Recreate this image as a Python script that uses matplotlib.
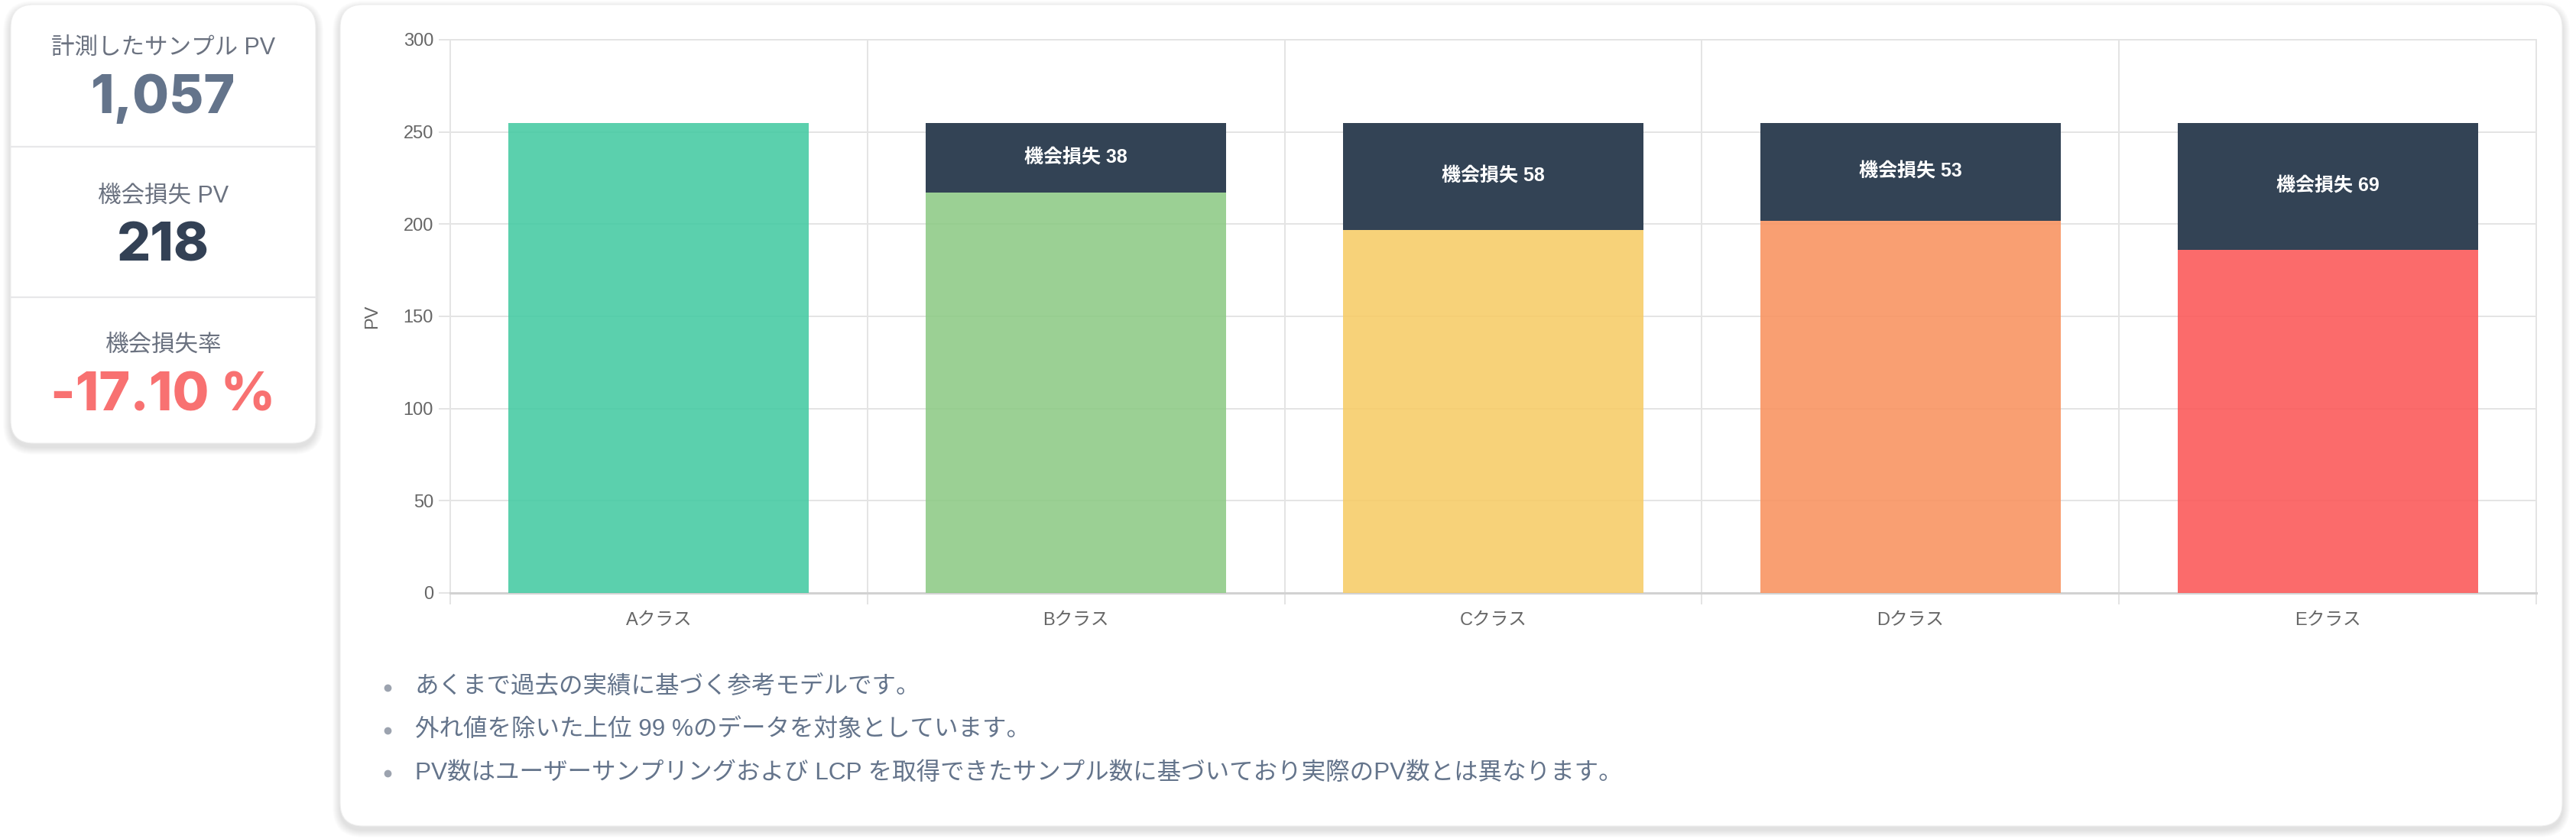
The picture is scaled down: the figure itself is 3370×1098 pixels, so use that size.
import matplotlib.pyplot as plt
import numpy as np
from matplotlib.patches import FancyBboxPatch

# chart data
classes = ['Aクラス', 'Bクラス', 'Cクラス', 'Dクラス', 'Eクラス']
kept_pv = [255, 217, 197, 202, 186]
lost_pv = [0, 38, 58, 53, 69]
class_colors = ['#44caa2', '#8dca85', '#f7cc66', '#f9925f', '#fb5757']
loss_color = '#334355'
y_ticks = [0, 50, 100, 150, 200, 250, 300]

stat_labels = ['計測したサンプル PV', '機会損失 PV', '機会損失率']
stat_colors = ['#64748b', '#334155', '#f87171']

notes = [
    'あくまで過去の実績に基づく参考モデルです。',
    '外れ値を除いた上位 99 %のデータを対象としています。',
    'PV数はユーザーサンプリングおよび LCP を取得できたサンプル数に基づいており実際のPV数とは異なります。',
]

total_pv = sum(kept_pv)
total_loss = sum(lost_pv)
loss_rate = -total_loss / (total_pv + total_loss) * 100
stat_values = [f'{total_pv:,}', f'{total_loss:,}', f'{loss_rate:.2f} %']

plt.rcParams['font.family'] = ['Liberation Sans', 'Noto Sans CJK JP', 'DejaVu Sans']
num_font = ['Inter', 'Noto Sans CJK JP', 'DejaVu Sans']

W, H = 3370, 1098
fig = plt.figure(figsize=(W / 100, H / 100), dpi=100)
fig.patch.set_facecolor('white')

# background layer in pixel coordinates
bg = fig.add_axes([0, 0, 1, 1])
bg.set_xlim(0, W)
bg.set_ylim(H, 0)
bg.axis('off')


def card(x0, y0, x1, y1, r=30):
    # soft shadow, then the white card
    for k in range(10, 0, -1):
        bg.add_patch(FancyBboxPatch((x0 - k, y0 - k + 5), x1 - x0 + 2 * k, y1 - y0 + 2 * k,
                                    boxstyle=f'round,pad=0,rounding_size={r + k}',
                                    fc='#000000', ec='none', alpha=0.010))
    bg.add_patch(FancyBboxPatch((x0, y0), x1 - x0, y1 - y0,
                                boxstyle=f'round,pad=0,rounding_size={r}',
                                fc='white', ec='#eeeeee', lw=0.8))


card(14, 6, 413, 580)
card(445, 6, 3352, 1081)

# stats card
cx = (14 + 413) / 2
label_y = [71, 265, 460]
value_y = [148, 342, 538]
for lab, val, col, ly, vy in zip(stat_labels, stat_values, stat_colors, label_y, value_y):
    bg.text(cx, ly, lab, ha='center', va='baseline', fontsize=22, color='#6b7280')
    bg.text(cx, vy, val, ha='center', va='baseline', fontsize=50, fontweight='heavy',
            color=col, family=num_font)
for dy in [192, 389]:
    bg.plot([14, 413], [dy, dy], color='#e8e8ea', lw=1.6)

# notes
for i, note in enumerate(notes):
    ny = 900 + i * 56
    bg.plot(507, ny, 'o', ms=7, color='#9ca3af', mec='none')
    bg.text(543, ny, note, va='center', ha='left', fontsize=22.7, color='#64748b')

# main bar chart
grid = '#e4e4e4'
ax = fig.add_axes([589 / W, 1 - 776 / H, (3318 - 589) / W, (776 - 52) / H])
ax.set_facecolor('none')
x = np.arange(len(classes))
ax.bar(x, kept_pv, width=0.72, color=class_colors, alpha=0.88, zorder=3)
ax.bar(x, lost_pv, bottom=kept_pv, width=0.72, color=loss_color, zorder=3)
for i, (k, l) in enumerate(zip(kept_pv, lost_pv)):
    if l > 0:
        ax.text(i, k + l / 2, f'機会損失 {l}', ha='center', va='center', color='white',
                fontsize=18, fontweight='bold', zorder=4)

ax.set_xlim(-0.5, len(classes) - 0.5)
ax.set_ylim(0, 300)
ax.set_yticks(y_ticks)
ax.set_xticks(x)
ax.set_xticklabels(classes)
ax.set_xticks(np.arange(-0.5, len(classes)), minor=True)
ax.set_axisbelow(True)
ax.grid(axis='y', which='major', color=grid, lw=1.44)
ax.grid(axis='x', which='minor', color=grid, lw=1.44)
ax.tick_params(axis='x', which='major', length=0, pad=18, labelsize=17, labelcolor='#666666')
ax.tick_params(axis='x', which='minor', length=10.8, width=1.44, color=grid)
ax.tick_params(axis='y', length=10.8, width=1.44, color=grid, pad=5, labelsize=17,
               labelcolor='#666666')
for side in ['left', 'right', 'top']:
    ax.spines[side].set_color(grid)
    ax.spines[side].set_linewidth(1.44)
ax.spines['bottom'].set_color('#d2d2d2')
ax.spines['bottom'].set_linewidth(2.2)
ax.set_ylabel('PV', fontsize=17, color='#666666')
ax.yaxis.set_label_coords((498 - 589) / (3318 - 589), 0.5)

fig.savefig('out.png', dpi=100)
